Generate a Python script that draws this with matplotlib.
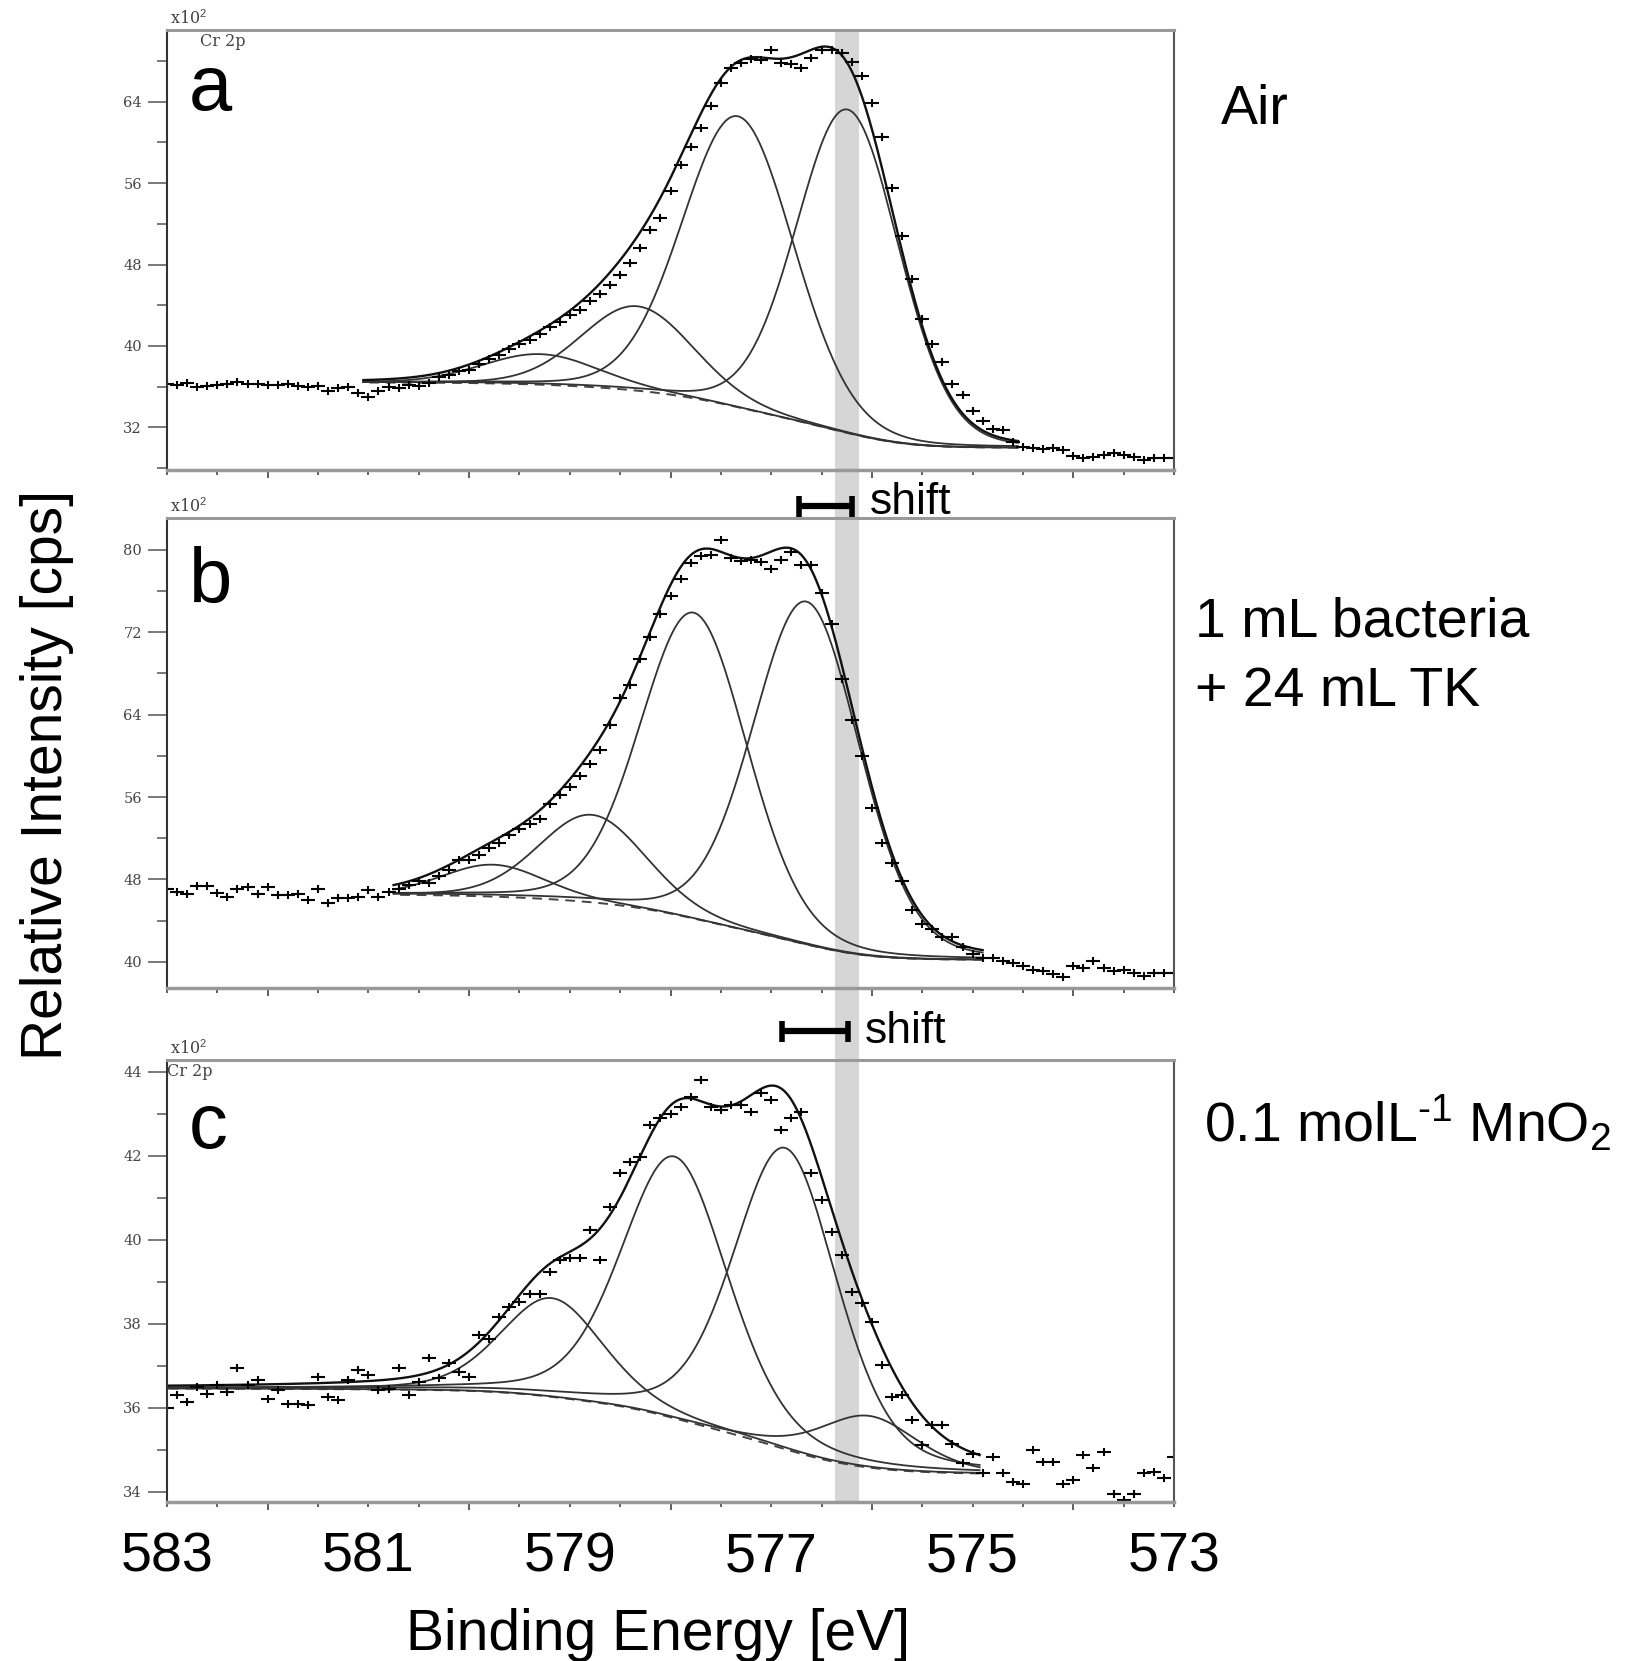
import numpy as np
import matplotlib
matplotlib.use("Agg")
import matplotlib.pyplot as plt
import matplotlib.transforms as mtransforms
from matplotlib.ticker import MultipleLocator, FixedLocator

plt.rcParams['font.family'] = ['Liberation Sans', 'DejaVu Sans']
plt.rcParams['mathtext.fontset'] = 'custom'
plt.rcParams['mathtext.rm'] = 'Liberation Sans'
plt.rcParams['mathtext.it'] = 'Liberation Sans:italic'

# binding energy grid of the scans (0.1 eV steps, 583 -> 573)
energy = np.round(np.arange(583.0, 572.95, -0.1), 1)

counts_a = [36.3, 36.2, 36.4, 36.0, 36.1, 36.2, 36.3, 36.5, 36.3, 36.3,
            36.2, 36.2, 36.3, 36.1, 36.0, 36.1, 35.6, 35.9, 36.0, 35.4,
            35.0, 35.6, 36.0, 35.9, 36.2, 36.1, 36.4, 36.9, 37.1, 37.5,
            37.6, 38.2, 38.7, 39.1, 39.7, 40.2, 40.6, 41.2, 41.9, 42.4,
            43.0, 43.5, 44.4, 45.1, 46.0, 47.0, 48.2, 49.6, 51.4, 52.6,
            55.2, 57.8, 59.6, 61.4, 63.6, 65.8, 67.3, 67.8, 68.2, 68.1,
            69.1, 67.8, 67.7, 67.3, 68.3, 69.1, 69.1, 68.8, 67.9, 66.5,
            63.9, 60.5, 55.5, 50.8, 46.6, 42.6, 40.2, 38.4, 36.3, 35.2,
            33.6, 32.6, 31.8, 31.7, 30.6, 30.1, 30.0, 29.9, 30.0, 29.8,
            29.2, 29.0, 29.1, 29.3, 29.5, 29.3, 29.1, 28.8, 29.0, 29.0,
            29.0]
counts_b = [47.1, 46.8, 46.6, 47.4, 47.4, 46.7, 46.3, 47.1, 47.3, 46.6,
            47.3, 46.5, 46.5, 46.6, 46.0, 47.1, 45.7, 46.2, 46.2, 46.3,
            47.0, 46.3, 46.8, 47.1, 47.5, 47.8, 47.6, 48.3, 48.9, 49.9,
            49.9, 50.4, 51.0, 51.5, 52.3, 52.9, 53.4, 53.9, 55.3, 56.2,
            57.0, 58.0, 59.2, 60.6, 63.0, 65.6, 66.9, 69.4, 71.5, 73.8,
            75.5, 77.2, 78.7, 79.4, 79.5, 81.0, 79.2, 78.9, 79.0, 78.8,
            78.1, 79.0, 79.8, 78.5, 78.5, 75.8, 72.8, 67.5, 63.5, 60.0,
            54.9, 51.5, 49.6, 47.8, 45.0, 43.7, 43.2, 42.4, 42.4, 41.4,
            40.8, 40.4, 40.4, 40.1, 39.9, 39.6, 39.2, 39.1, 38.8, 38.5,
            39.6, 39.4, 40.1, 39.4, 39.1, 39.2, 38.9, 38.6, 38.9, 38.9,
            38.9]
counts_c = [36.0, 36.3, 36.14, 36.5, 36.34, 36.54, 36.38, 36.94, 36.54, 36.66,
            36.22, 36.42, 36.1, 36.1, 36.06, 36.74, 36.26, 36.18, 36.66, 36.9,
            36.78, 36.42, 36.46, 36.94, 36.3, 36.62, 37.18, 36.7, 37.06, 36.86,
            36.74, 37.73, 37.65, 38.17, 38.4, 38.52, 38.72, 38.72, 39.24, 39.52,
            39.56, 39.56, 40.23, 39.52, 40.79, 41.58, 41.86, 41.98, 42.73, 42.89,
            43.0, 43.17, 43.4, 43.8, 43.17, 43.09, 43.2, 43.2, 43.05, 43.49,
            43.33, 42.61, 42.89, 43.05, 41.58, 40.95, 40.19, 39.64, 38.76, 38.49,
            38.05, 37.02, 36.26, 36.3, 35.71, 35.11, 35.59, 35.59, 35.15, 34.68,
            34.91, 34.44, 34.83, 34.44, 34.24, 34.2, 34.99, 34.71, 34.71, 34.2,
            34.28, 34.87, 34.56, 34.95, 33.96, 33.8, 33.96, 34.44, 34.48, 34.32,
            34.83]

# fitted components: centre (eV), height above background, FWHM (eV)
centers_a = [576.24, 577.33, 578.33, 579.29]
heights_a = [31.8, 28.6, 8.3, 3.0]
fwhm_a = [1.2, 1.3, 1.3, 1.35]
centers_b = [576.65, 577.77, 578.78, 579.76]
heights_b = [33.3, 29.7, 8.5, 3.1]
fwhm_b = [1.25, 1.25, 1.25, 1.2]
centers_c = [576.86, 577.96, 579.18, 576.03]
heights_c = [7.17, 6.23, 2.35, 1.23]
fwhm_c = [1.22, 1.25, 1.2, 1.15]
# Lorentzian fraction of the line shape per panel
mix = [0.1, 0.15, 0.3]

# fit window (low BE, high BE) and Shirley end levels (low side, high side)
window_a = (574.55, 581.05)
window_b = (574.9, 580.75)
window_c = (574.93, 583.0)
bg_ends_a = (30.0, 36.4)
bg_ends_b = (40.2, 46.5)
bg_ends_c = (34.44, 36.46)

ylims = [(27.8, 71.06), (37.45, 83.1), (33.76, 44.28)]
ylabels = [[32, 40, 48, 56, 64], [40, 48, 56, 64, 72, 80], [34, 36, 38, 40, 42, 44]]
yminor = [4, 4, 1]
letters = ['a', 'b', 'c']
band = (576.13, 576.37)
shift_ab = [576.72, 576.20]
shift_bc = [576.89, 576.24]
xlabels_big = [583, 581, 579, 577, 575, 573]


def component(e, c, h, w, m):
    r2 = ((e - c) / w) ** 2
    return h * (m / (1 + 4 * r2) + (1 - m) * np.exp(-4 * np.log(2) * r2))


def fit_curves(window, ends, centers, heights, widths, m):
    e = np.linspace(window[0], window[1], 800)
    comps = [component(e, c, h, w, m) for c, h, w in zip(centers, heights, widths)]
    s = np.sum(comps, axis=0)
    # Shirley background between the two end levels
    area = np.concatenate([[0], np.cumsum(0.5 * (s[1:] + s[:-1]) * np.diff(e))])
    bg = ends[0] + (ends[1] - ends[0]) * area / area[-1]
    return e, bg, comps, s


W, H = 1630, 1661
fig = plt.figure(figsize=(W / 100, H / 100), dpi=100)
L, R = 167, 1174
boxes = [(30, 470), (518, 988), (1060, 1502)]

# background axes for the grey band and the shift markers (pixel y units)
bgax = fig.add_axes([L / W, 1 - 1502 / H, (R - L) / W, (1502 - 30) / H], zorder=-1)
bgax.set_xlim(583, 573)
bgax.set_ylim(1502, 30)
bgax.axis('off')
bgax.axvspan(band[0], band[1], color='#d6d6d6', lw=0)
for xs, yb in [(shift_ab, 506), (shift_bc, 1031)]:
    bgax.plot(xs, [yb, yb], color='k', lw=4.5, solid_capstyle='butt')
    bgax.vlines(xs, yb - 10, yb + 11, color='k', lw=4)
fig.text(870 / W, 1 - 514 / H, 'shift', fontsize=32, va='baseline')
fig.text(865 / W, 1 - 1043 / H, 'shift', fontsize=32, va='baseline')

panels = [
    (counts_a, window_a, bg_ends_a, centers_a, heights_a, fwhm_a),
    (counts_b, window_b, bg_ends_b, centers_b, heights_b, fwhm_b),
    (counts_c, window_c, bg_ends_c, centers_c, heights_c, fwhm_c),
]

axes = []
for i, (counts, window, ends, cen, hei, wid) in enumerate(panels):
    top, bot = boxes[i]
    ax = fig.add_axes([L / W, 1 - bot / H, (R - L) / W, (bot - top) / H])
    ax.set_facecolor('none')
    ax.set_xlim(583, 573)
    ax.set_ylim(*ylims[i])

    e, bg, comps, s = fit_curves(window, ends, cen, hei, wid, mix[i])
    ax.plot(e, bg, color='#444', lw=1.4, ls=(0, (5, 3.5)))
    for comp in comps:
        ax.plot(e, bg + comp, color='#333', lw=1.3)
    ax.plot(e, bg + s, color='#111', lw=1.7)

    ax.plot(energy, counts, ls='none', marker='_', ms=10, mew=1.5, color='k')
    ax.plot(energy, counts, ls='none', marker='|', ms=6, mew=1.5, color='k')

    ax.xaxis.set_major_locator(MultipleLocator(2))
    ax.xaxis.set_minor_locator(MultipleLocator(0.5))
    ax.xaxis.set_major_formatter(plt.NullFormatter())
    ax.tick_params(axis='x', which='major', direction='out', length=6, width=1.2, color='#444')
    ax.tick_params(axis='x', which='minor', direction='out', length=3.5, width=1.2, color='#444')

    ax.yaxis.set_major_locator(FixedLocator(ylabels[i]))
    ax.yaxis.set_minor_locator(MultipleLocator(yminor[i]))
    ax.set_yticklabels([str(v) for v in ylabels[i]], fontfamily='DejaVu Serif',
                       fontsize=10.5, color='#444')
    ax.tick_params(axis='y', which='major', direction='out', length=14, width=1.1,
                   color='#555', pad=4)
    ax.tick_params(axis='y', which='minor', direction='out', length=7, width=1.1, color='#555')

    ax.spines['left'].set_color('#333')
    ax.spines['left'].set_linewidth(1.5)
    ax.spines['right'].set_color('#555')
    ax.spines['right'].set_linewidth(1.5)
    ax.spines['top'].set_color('#999')
    ax.spines['top'].set_linewidth(2.2)
    ax.spines['bottom'].set_color('#999')
    ax.spines['bottom'].set_linewidth(2.5)

    ax.text(0.003, 1.004, 'x10$^2$', transform=ax.transAxes, fontfamily='DejaVu Serif',
            fontsize=11.5, color='#444', va='bottom', ha='left')
    if i != 1:
        ax.text(0.033 if i == 0 else 0.0, 0.993, 'Cr 2p', transform=ax.transAxes,
                fontfamily='DejaVu Serif', fontsize=11.5, color='#444', va='top', ha='left')
    ax.text(0.022, [0.818, 0.819, 0.80][i], letters[i], transform=ax.transAxes,
            fontsize=56, va='baseline', ha='left')
    axes.append(ax)

# big tick labels under the bottom panel
trans = mtransforms.blended_transform_factory(axes[2].transData, fig.transFigure)
for v in xlabels_big:
    axes[2].text(v, 1 - 1571.7 / H, str(v), transform=trans, ha='center', va='baseline',
                 fontsize=40)

fig.text(658.5 / W, 1 - 1650 / H, 'Binding Energy [eV]', ha='center', va='baseline', fontsize=41)
fig.text(47 / W, 1 - 775 / H, 'Relative Intensity [cps]', rotation=90, ha='center',
         va='center', fontsize=41)

fig.text(1221 / W, 1 - 124 / H, 'Air', fontsize=40, va='baseline')
fig.text(1195 / W, 1 - 636.5 / H, '1 mL bacteria', fontsize=40, va='baseline')
fig.text(1195 / W, 1 - 706 / H, '+ 24 mL TK', fontsize=40, va='baseline')
fig.text(1204 / W, 1 - 1141.7 / H, r'0.1 molL$^{\text{-}1}$ MnO$_2$', fontsize=40,
         va='baseline')

fig.savefig('out.png', dpi=100)
